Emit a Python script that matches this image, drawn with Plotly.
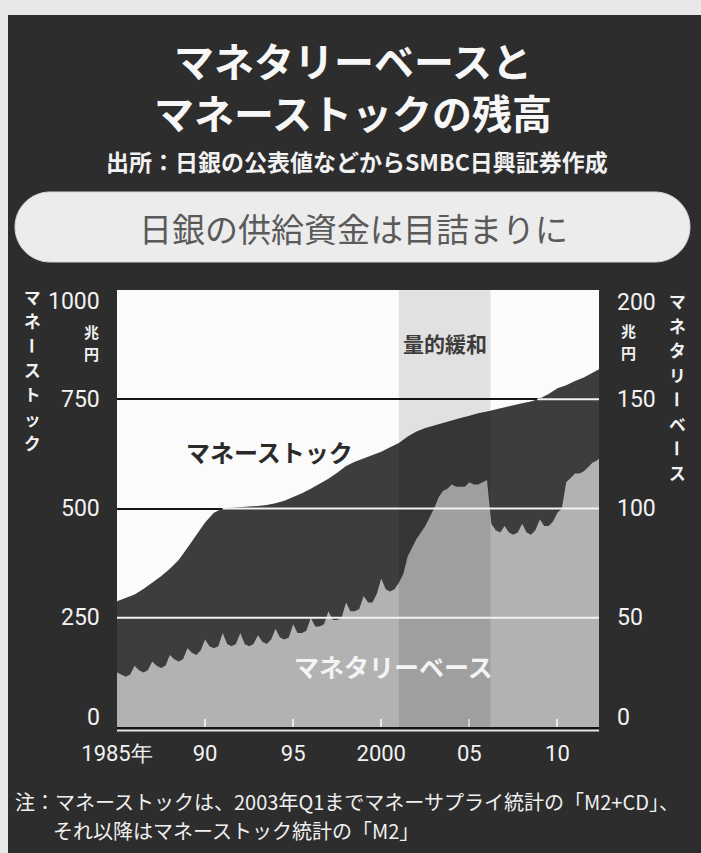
import plotly.graph_objects as go

# ---------------- data ----------------
# Money stock, trillion yen (left axis), semi-annual readings from 1985.0
ms_start = 1985.0
ms_step = 0.5
ms_values = [
    288, 295, 303, 316, 330, 345, 362, 382, 410, 440,   # 1985.0 - 1989.5
    468, 490, 500, 502, 503, 505, 506, 508, 512, 518,   # 1990.0 - 1994.5
    526, 535, 545, 556, 568, 582, 597, 607, 615, 622,   # 1995.0 - 1999.5
    630, 640, 650, 665, 676, 684, 690, 695, 701, 707,   # 2000.0 - 2004.5
    712, 718, 722, 727, 731, 736, 741, 745, 752, 762,   # 2005.0 - 2009.5
    775, 782, 792, 800, 812, 822,                       # 2010.0 - 2012.5
]
ms_years = [ms_start + ms_step * i for i in range(len(ms_values))]

# Monetary base, trillion yen (right axis), quarter-end readings, first = Dec 1984
mb_start = 1985.0
mb_step = 0.25
mb_values = [
    25,
    24, 23, 24, 28,      # 1985 Mar Jun Sep Dec
    26, 25, 26, 30,      # 1986
    28, 27, 28, 33,      # 1987
    31, 30, 31, 36,      # 1988
    34, 33, 35, 40,      # 1989
    37, 36, 37, 43,      # 1990
    38, 37, 38, 43,      # 1991
    38, 37, 38, 42,      # 1992
    39, 38, 40, 45,      # 1993
    41, 40, 41, 47,      # 1994
    43, 43, 44, 50,      # 1995
    46, 46, 47, 53,      # 1996
    49, 49, 50, 57,      # 1997
    53, 53, 54, 60,      # 1998
    57, 57, 61, 68,      # 1999
    63, 62, 63, 66,      # 2000
    70, 78, 82, 86,      # 2001
    89, 92, 96, 100,     # 2002
    105, 108, 109, 111,  # 2003
    110, 110, 110, 112,  # 2004
    111, 111, 112, 113,  # 2005
    93, 90, 89, 92,      # 2006
    89, 88, 89, 93,      # 2007
    89, 88, 90, 95,      # 2008
    92, 92, 94, 98,      # 2009
    100, 112, 114, 116,  # 2010
    116, 117, 119, 121,  # 2011
    122, 124, 126, 128,  # 2012
]
mb_years = [mb_start + mb_step * i for i in range(len(mb_values))]

qe_start, qe_end = 2001.0, 2006.2          # 量的緩和 period
x_range = [1985.0, 2012.36]
x_tickvals = [1985, 1990, 1995, 2000, 2005, 2010]
x_ticktext = ["1985年", "90", "95", "2000", "05", "10"]
left_ticks = [0, 250, 500, 750, 1000]
right_ticks = [0, 50, 100, 150, 200]
grid_levels = [250, 500, 750]
left_max, right_max = 1000, 200

# ---------------- style ----------------
W, H = 701, 853
ML, MR, MT, MB = 117, 102, 290, 126
PW, PH = W - ML - MR, H - MT - MB
BG = "#2d2d2d"
LIGHT = "#e8e8e8"
MS_COL = "#3d3d3d"
MB_COL = "#b2b2b2"
CJK = "Noto Sans CJK JP"
NUM = "Roboto, Liberation Sans, sans-serif"


def px(xp):
    return (xp - ML) / PW


def py(yp):
    return (MT + PH - yp) / PH


fig = go.Figure()
fig.add_trace(go.Scatter(x=ms_years, y=ms_values, mode="lines", fill="tozeroy",
                         line=dict(width=0, color=MS_COL), fillcolor=MS_COL,
                         yaxis="y", hoverinfo="skip"))
fig.add_trace(go.Scatter(x=mb_years, y=mb_values, mode="lines", fill="tozeroy",
                         line=dict(width=0, color=MB_COL), fillcolor=MB_COL,
                         yaxis="y2", hoverinfo="skip"))

shapes = []
# light page edges around the dark panel
shapes.append(dict(type="rect", xref="paper", yref="paper", layer="below",
                   x0=px(0), x1=px(W), y0=py(0), y1=py(15), fillcolor=LIGHT, line_width=0))
shapes.append(dict(type="rect", xref="paper", yref="paper", layer="below",
                   x0=px(0), x1=px(8), y0=py(0), y1=py(H), fillcolor=LIGHT, line_width=0))

# pill-shaped headline box
bx0, bx1, by0, by1 = 15, 690, 192, 262
r = (by1 - by0) / 2
k = 0.5523 * r
cy = (by0 + by1) / 2
pts = [
    ("M", [(bx0 + r, by0)]),
    ("L", [(bx1 - r, by0)]),
    ("C", [(bx1 - r + k, by0), (bx1, cy - k), (bx1, cy)]),
    ("C", [(bx1, cy + k), (bx1 - r + k, by1), (bx1 - r, by1)]),
    ("L", [(bx0 + r, by1)]),
    ("C", [(bx0 + r - k, by1), (bx0, cy + k), (bx0, cy)]),
    ("C", [(bx0, cy - k), (bx0 + r - k, by0), (bx0 + r, by0)]),
]
path = ""
for cmd, plist in pts:
    path += cmd + " " + " ".join(f"{px(a):.5f},{py(b):.5f}" for a, b in plist) + " "
path += "Z"
shapes.append(dict(type="path", xref="paper", yref="paper", layer="below",
                   path=path, fillcolor="#ececec", line=dict(color="#d6d6d6", width=1)))

# QE shading (overlay)
shapes.append(dict(type="rect", xref="x", yref="paper", layer="above",
                   x0=qe_start, x1=qe_end, y0=0, y1=1,
                   fillcolor="rgba(0,0,0,0.10)", line_width=0))

# white grid segments where the grid runs over the filled areas
for lvl in grid_levels:
    xc = None
    for i in range(1, len(ms_values)):
        if ms_values[i - 1] < lvl <= ms_values[i]:
            t = (lvl - ms_values[i - 1]) / (ms_values[i] - ms_values[i - 1])
            xc = ms_years[i - 1] + t * (ms_years[i] - ms_years[i - 1])
            break
    if ms_values[0] >= lvl:
        xc = x_range[0]
    if xc is not None:
        shapes.append(dict(type="line", xref="x", yref="y", layer="above",
                           x0=xc, x1=x_range[1], y0=lvl, y1=lvl,
                           line=dict(color="#f2f2f2", width=2)))

# white rule under the x axis
shapes.append(dict(type="line", xref="paper", yref="paper", layer="above",
                   x0=0, x1=1, y0=py(730.5), y1=py(730.5),
                   line=dict(color="#e6e6e6", width=2)))

ann = []


def text(t, x, y, size, color, bold=False, family=CJK, xanchor="center",
         yanchor="middle", angle=0, xref="paper", yref="paper", yshift=0):
    ann.append(dict(text=("<b>%s</b>" % t) if bold else t, x=x, y=y, xref=xref, yref=yref,
                    showarrow=False, xanchor=xanchor, yanchor=yanchor, textangle=angle,
                    yshift=yshift, borderpad=0,
                    font=dict(family=family, size=size, color=color)))


# titles
text("マネタリーベースと<br>マネーストックの残高", px(353), py(86), 40, "#f7f7f7", bold=True)
text("出所：日銀の公表値などからSMBC日興証券作成", px(357), py(161), 23, "#f2f2f2", bold=True)
text("日銀の供給資金は目詰まりに", px(353), py(228), 33, "#5a5a5a")

# y tick labels
for v in left_ticks:
    sh = -11 if v == left_max else (10 if v == 0 else 0)
    text(str(v), px(101), v, 23, "#f2f2f2", family=NUM, xanchor="right",
         xref="paper", yref="y", yshift=sh)
for v in right_ticks:
    sh = -12 if v == right_max else (10 if v == 0 else 0)
    text(str(v), px(616), v, 23, "#f2f2f2", family=NUM, xanchor="left",
         xref="paper", yref="y2", yshift=sh)


def vertical(t, xc, y0, pitch, size, color):
    for i, ch in enumerate(t):
        text(ch, px(xc), py(y0 + pitch * i), size, color, bold=True,
             angle=90 if ch == "ー" else 0)


vertical("マネーストック", 32, 297, 24.3, 16.6, "#f2f2f2")
vertical("マネタリーベース", 677, 301, 24.5, 16.7, "#f2f2f2")
vertical("兆円", 91, 331, 22, 15, "#f2f2f2")
vertical("兆円", 628, 330, 22, 15, "#f2f2f2")

# in-chart labels
text("マネーストック", px(269), py(451), 24, "#2a2a2a", bold=True)
text("マネタリーベース", px(393), py(666), 25, "#f4f4f4", bold=True)
text("量的緩和", (qe_start + qe_end) / 2, py(343), 21, "#3c3c3c", bold=True, xref="x")

# footnote
text("注：マネーストックは、2003年Q1までマネーサプライ統計の「M2+CD」、", px(14), py(801), 20,
     "#f0f0f0", xanchor="left")
text("それ以降はマネーストック統計の「M2」", px(52), py(830), 20, "#f0f0f0", xanchor="left")

fig.update_layout(
    width=W, height=H, margin=dict(l=ML, r=MR, t=MT, b=MB, pad=0),
    paper_bgcolor=BG, plot_bgcolor="#fbfbfb", showlegend=False,
    shapes=shapes, annotations=ann,
    xaxis=dict(range=x_range, tickvals=x_tickvals, ticktext=x_ticktext,
               ticks="inside", ticklen=8, tickwidth=2, tickcolor="#e8e8e8",
               showgrid=False, zeroline=False, showline=True, linecolor="#151515",
               linewidth=4, tickfont=dict(family=NUM, size=22, color="#f2f2f2"),
               ticklabelstandoff=4),
    yaxis=dict(range=[0, left_max], tickvals=grid_levels, showticklabels=False,
               showgrid=True, gridcolor="#151515", gridwidth=2, zeroline=False,
               showline=False, ticks=""),
    yaxis2=dict(range=[0, right_max], overlaying="y", side="right", showgrid=False,
                showticklabels=False, zeroline=False, showline=False, ticks=""),
)

fig.write_html("out.html")
